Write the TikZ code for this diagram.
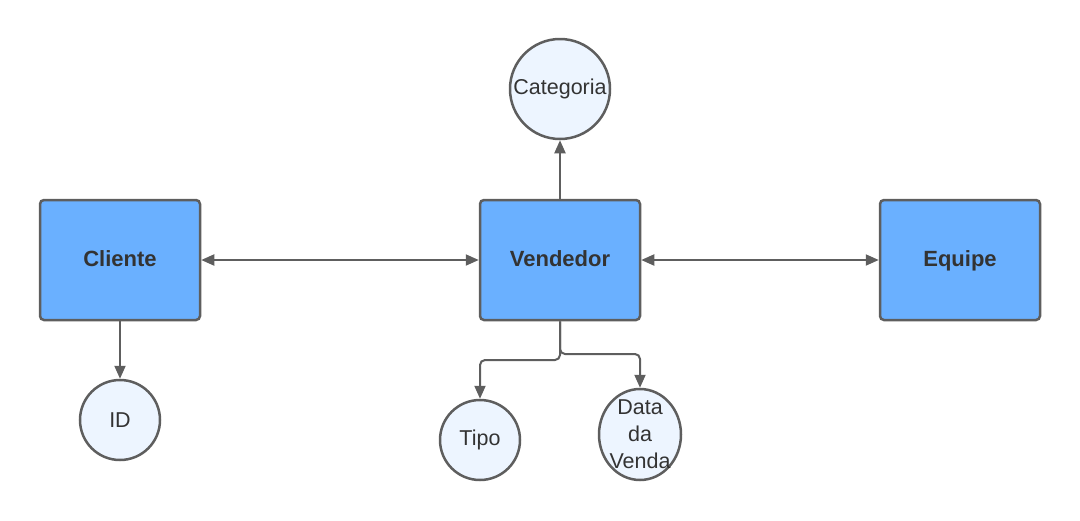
\documentclass[tikz,border=0pt]{standalone}
\usepackage{fontspec}
\setmainfont{Liberation Sans}
\usetikzlibrary{arrows.meta,shapes.geometric}
\definecolor{boxfill}{RGB}{106,176,255}
\definecolor{circfill}{RGB}{237,245,255}
\definecolor{edge}{RGB}{94,94,94}
\definecolor{txt}{RGB}{51,51,51}
\tikzset{
  entity/.style={draw=edge, line width=2.5pt, fill=boxfill, rounded corners=4pt,
    minimum width=160pt, minimum height=120pt, inner sep=0pt,
    text height=16pt, text depth=4pt,
    font=\fontsize{22}{26}\selectfont\bfseries, text=txt},
  attr/.style={draw=edge, line width=2.5pt, fill=circfill, ellipse, inner sep=0pt},
  attrtext/.style={font=\fontsize{21.5}{27}\selectfont, text=txt, align=center, inner sep=0pt},
  conn/.style={draw=edge, line width=2pt, rounded corners=5pt,
    -{Triangle[length=13pt,width=11pt]}},
  dconn/.style={draw=edge, line width=2pt,
    {Triangle[length=13pt,width=11pt]}-{Triangle[length=13pt,width=11pt]}}
}
\begin{document}
\begin{tikzpicture}[x=1pt,y=-1pt]
\useasboundingbox (0,0) rectangle (1080,520);
\node[entity] (cli) at (120,260) {Cliente};
\node[entity] (ven) at (560,260) {Vendedor};
\node[entity] (equ) at (960,260) {Equipe};
\node[attr, minimum width=100pt, minimum height=100pt] (cat) at (560,89) {};
\node[attrtext] (catt) at (cat.center) {Categoria};
\node[attr, minimum width=80pt, minimum height=80pt] (id) at (120,420) {};
\node[attrtext] (idt) at (id.center) {ID};
\node[attr, minimum width=80pt, minimum height=80pt] (tipo) at (480,440) {};
\node[attrtext] (tipot) at (tipo.center) {Tipo};
\node[attr, minimum width=82pt, minimum height=91pt] (data) at (640,434.5) {};
\node[attrtext] (datat) at (data.center) {Data\\da\\Venda};
\draw[dconn] (cli.east) -- (ven.west);
\draw[dconn] (ven.east) -- (equ.west);
\draw[conn] (ven.north) -- (cat.south);
\draw[conn] (cli.south) -- (id.north);
\draw[conn] (ven.south) -- (560,360) -- (480,360) -- (tipo.north);
\draw[conn] (ven.south) -- (560,354) -- (640,354) -- (data.north);
\end{tikzpicture}
\end{document}
